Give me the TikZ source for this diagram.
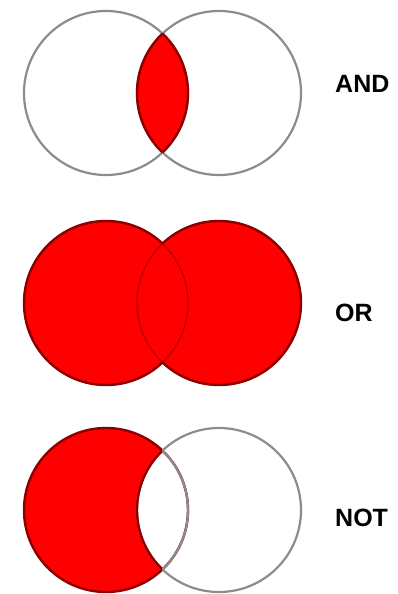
\documentclass[tikz,border=0pt]{standalone}
\usepackage{fontspec}
\setmainfont{Liberation Sans}
\usepackage{xcolor}
\usetikzlibrary{positioning}

\begin{document}
\begin{tikzpicture}[
    x=1pt, y=-1pt,
    ring/.style={draw=gray!90, line width=2.2pt},
    redring/.style={draw=red!55!black, line width=2.4pt},
    innerring/.style={draw=red!75!black, line width=1.4pt},
    redfill/.style={fill=red},
    opname/.style={anchor=west, inner sep=0pt, font=\bfseries\fontsize{25}{25}\selectfont}
]
    \useasboundingbox (0,0) rectangle (398,594);

    \coordinate (andL) at (106,93);
    \coordinate (andR) at (219,93);
    \coordinate (orL) at (106,303);
    \coordinate (orR) at (219,303);
    \coordinate (notL) at (106,510);
    \coordinate (notR) at (219,510);

    % AND
    \draw[ring] (andL) circle[radius=82pt];
    \draw[ring] (andR) circle[radius=82pt];
    \begin{scope}
        \clip (andL) circle[radius=82pt];
        \fill[redfill] (andR) circle[radius=82pt];
        \draw[redring] (andR) circle[radius=82pt];
    \end{scope}
    \begin{scope}
        \clip (andR) circle[radius=82pt];
        \draw[redring] (andL) circle[radius=82pt];
    \end{scope}
    \node[opname] (and) at (335,84) {AND};

    % OR
    \fill[redfill] (orL) circle[radius=82pt];
    \fill[redfill] (orR) circle[radius=82pt];
    \draw[innerring] (orL) circle[radius=82pt];
    \draw[innerring] (orR) circle[radius=82pt];
    \begin{scope}[even odd rule]
        \clip (0,200) rectangle (398,400) (orR) circle[radius=82pt];
        \draw[redring] (orL) circle[radius=82pt];
    \end{scope}
    \begin{scope}[even odd rule]
        \clip (0,200) rectangle (398,400) (orL) circle[radius=82pt];
        \draw[redring] (orR) circle[radius=82pt];
    \end{scope}
    \node[opname] (or) at (335,313) {OR};

    % NOT
    \begin{scope}
        \clip (notL) circle[radius=82pt];
        \fill[redfill, even odd rule] (notL) circle[radius=82pt] (notR) circle[radius=82pt];
    \end{scope}
    \draw[redring] (notL) circle[radius=82pt];
    \draw[ring] (notR) circle[radius=82pt];
    \begin{scope}
        \clip (notL) circle[radius=82pt];
        \draw[redring] (notR) circle[radius=82pt];
    \end{scope}
    \begin{scope}
        \clip (notR) circle[radius=82pt];
        \draw[ring] (notL) circle[radius=82pt];
    \end{scope}
    \node[opname] (not) at (335,518) {NOT};
\end{tikzpicture}
\end{document}
